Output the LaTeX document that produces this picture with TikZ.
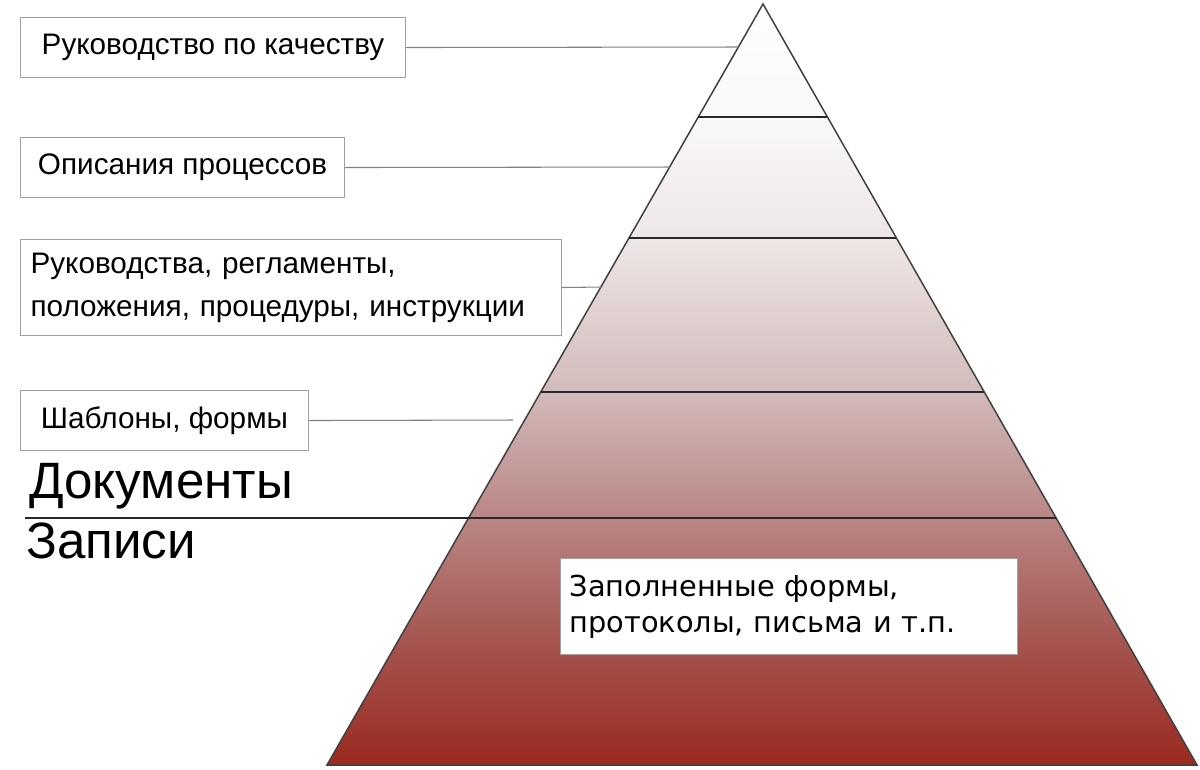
\documentclass[tikz,border=0pt]{standalone}
\usepackage{fontspec}
\setmainfont{Liberation Sans}
\newfontfamily\recfont{DejaVu Sans}
\usetikzlibrary{calc}

\definecolor{boxgray}{RGB}{160,160,160}
\definecolor{leadgray}{RGB}{128,128,128}
\definecolor{edgegray}{RGB}{64,64,64}
\definecolor{tierdark}{RGB}{40,40,40}
\definecolor{pyrA}{RGB}{254,254,254}
\definecolor{pyrB}{RGB}{250,248,248}
\definecolor{pyrC}{RGB}{238,230,230}
\definecolor{pyrD}{RGB}{210,186,186}
\definecolor{pyrE}{RGB}{184,134,132}
\definecolor{pyrF}{RGB}{165,85,80}
\definecolor{pyrG}{RGB}{154,42,32}
\pgfdeclareverticalshading{pyramidfill}{100bp}{color(0bp)=(pyrG); color(25bp)=(pyrG); color(33.2bp)=(pyrF); color(41.2bp)=(pyrE); color(49.5bp)=(pyrD); color(59.6bp)=(pyrC); color(67.6bp)=(pyrB); color(75bp)=(pyrA); color(100bp)=(pyrA)}

\tikzset{
  docbox/.style={draw=boxgray, line width=0.6pt, fill=white, anchor=north west, inner sep=0pt, font=\fontsize{16.9}{24.3}\selectfont},
  lead/.style={draw=leadgray, line width=0.6pt},
  tier/.style={draw=tierdark, line width=1.1pt},
  biglabel/.style={anchor=base west, inner sep=0pt, font=\fontsize{29.1}{34}\selectfont}
}

\begin{document}
\begin{tikzpicture}[x=0.02cm, y=-0.02cm]
  \useasboundingbox (0,0) rectangle (1200,769);

  % pyramid
  \coordinate (apex) at (763,4);
  \coordinate (bl) at (327,765);
  \coordinate (br) at (1197,765);
  \shade[shading=pyramidfill] (apex) -- (bl) -- (br) -- cycle;
  \draw[edgegray, line width=0.85pt, line join=miter] (apex) -- (bl) -- (br) -- cycle;

  % tiers
  \foreach \f in {0.1485, 0.3075, 0.5099}
    \draw[tier] ($(apex)!\f!(bl)$) -- ($(apex)!\f!(br)$);

  % documents / records split
  \coordinate (split) at (25,518);
  \coordinate (splitend) at ($(apex)!0.6754!(br)$);
  \draw[tier] (split) -- (splitend);
  \node[biglabel] (docs) at (29,498) {Документы};
  \node[biglabel] (recs) at (26,558) {Записи};

  % label boxes
  \node[docbox, minimum width=7.7cm, minimum height=1.2cm] (manual) at (20,17) {Руководство по качеству};
  \node[docbox, minimum width=6.48cm, minimum height=1.2cm] (procs) at (20,137) {Описания процессов};
  \node[docbox, text width=10.42cm, inner xsep=0.2cm, align=left, minimum height=1.92cm] (rules) at (20,239) {Руководства, регламенты,\\положения, процедуры, инструкции};
  \node[docbox, minimum width=5.76cm, minimum height=1.2cm] (forms) at (20,390) {Шаблоны, формы};
  \node[docbox, text width=8.78cm, inner xsep=0.18cm, align=left, minimum height=1.92cm, font=\recfont\fontsize{16.4}{20.4}\selectfont] (filled) at (560,558) {Заполненные формы,\\протоколы, письма и т.п.};

  % leaders
  \coordinate (m1) at ($(apex)!0.0565!(bl)$);
  \coordinate (m2) at ($(apex)!0.2142!(bl)$);
  \coordinate (m3) at ($(apex)!0.3719!(bl)$);
  \coordinate (m4) at (513,420);
  \draw[lead] (manual.east) -- (m1);
  \draw[lead] (procs.east) -- (m2);
  \draw[lead] (rules.east) -- (m3);
  \draw[lead] (forms.east) -- (m4);
\end{tikzpicture}
\end{document}
